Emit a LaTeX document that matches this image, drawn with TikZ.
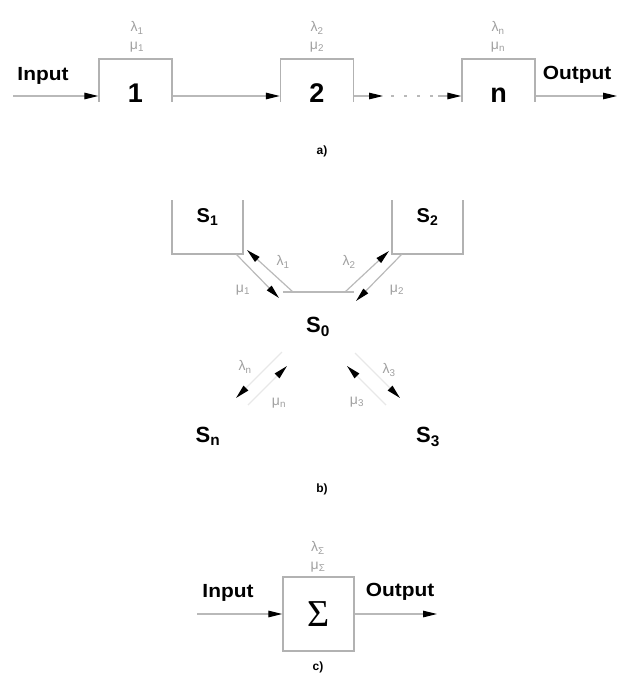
\documentclass[tikz,border=0pt]{standalone}
\usepackage{fontspec}
\setmainfont{Liberation Sans}
\newfontfamily\sigmafont{Liberation Serif}
\usetikzlibrary{arrows.meta}
\begin{document}
\begin{tikzpicture}[x=1pt,y=-1pt,
  boxa/.style={draw=gray!60,line width=1.3pt,minimum width=73pt,minimum height=74pt,inner sep=0pt},
  conn/.style={draw=gray!55,line width=1.2pt},
  arr/.style={-{Triangle[length=14pt,width=6.5pt,color=black]}},
  iolab/.style={font=\fontsize{19}{20}\selectfont\bfseries,inner sep=0pt},
  digit/.style={font=\fontsize{27}{27}\selectfont\bfseries,inner sep=0pt,anchor=base},
  glab/.style={font=\fontsize{14}{14}\selectfont,text=gray!75,inner sep=0pt},
  slab/.style={font=\fontsize{22}{22}\selectfont\bfseries,inner sep=0pt},
  caplab/.style={font=\fontsize{12}{12}\selectfont\bfseries,inner sep=0pt},
  faint/.style={draw=gray!18,line width=1.2pt}
]
\useasboundingbox (0,0) rectangle (617,675);

% ---------------- part a ----------------
\begin{scope}
\clip (0,0) rectangle (617,101);
\node[boxa] (b1) at (135.5,96) {};
\node[boxa] (b2) at (317,96) {};
\node[boxa] (bn) at (498.5,96) {};
\end{scope}
\node[digit] (t1) at (135.5,102) {1};
\node[digit] (t2) at (317,102) {2};
\node[digit] (tn) at (498.5,102) {n};

\coordinate (inA) at (13,96);
\coordinate (p1) at (383,96);
\coordinate (p2) at (438,96);
\coordinate (outA) at (617,96);
\draw[conn,arr] (inA) -- (b1.west);
\draw[conn,arr] (b1.east) -- (b2.west);
\draw[conn,arr] (b2.east) -- (p1);
\draw[conn,dash pattern=on 3pt off 10pt] ([xshift=8pt]p1) -- (p2);
\draw[conn,arr] (p2) -- (bn.west);
\draw[conn,arr] (bn.east) -- (outA);

\node[iolab] (inlab) at (43,76) {\scalebox{1.1}[1]{Input}};
\node[iolab] (outlab) at (577,75) {\scalebox{1.1}[1]{Output}};

\node[glab] (l1) at (137,28) {λ\textsubscript{1}};
\node[glab] (m1) at (137,47) {μ\textsubscript{1}};
\node[glab] (l2) at (317,28) {λ\textsubscript{2}};
\node[glab] (m2) at (317,47) {μ\textsubscript{2}};
\node[glab] (ln) at (498,28) {λ\textsubscript{n}};
\node[glab] (mn) at (498,47) {μ\textsubscript{n}};

\node[caplab] (capa) at (322,151) {a)};

% ---------------- part b ----------------
\begin{scope}
\clip (0,200) rectangle (617,675);
\node[boxa,minimum width=71pt,font=\fontsize{20}{20}\selectfont\bfseries] (s1) at (207.5,217) {S\textsubscript{1}};
\node[boxa,minimum width=71pt,font=\fontsize{20}{20}\selectfont\bfseries] (s2) at (427.5,217) {S\textsubscript{2}};
\end{scope}

\coordinate (h1) at (283,292);
\coordinate (h2) at (354,292);
\draw[conn] (h1) -- (h2);

\coordinate (a1s) at (293,292);
\coordinate (a1e) at (247,250);
\coordinate (b1s) at (236,254);
\coordinate (b1e) at (279,298);
\draw[conn,arr] (a1s) -- (a1e);
\draw[conn,arr] (b1s) -- (b1e);

\coordinate (a2s) at (345,292);
\coordinate (a2e) at (389,251);
\coordinate (b2s) at (402,254);
\coordinate (b2e) at (356,301);
\draw[conn,arr] (a2s) -- (a2e);
\draw[conn,arr] (b2s) -- (b2e);

\node[glab] (bl1) at (283,262) {λ\textsubscript{1}};
\node[glab] (bl2) at (349,262) {λ\textsubscript{2}};
\node[glab] (bm1) at (243,290) {μ\textsubscript{1}};
\node[glab] (bm2) at (397,290) {μ\textsubscript{2}};

\node[slab] (s0) at (318,327) {S\textsubscript{0}};

% lower branches
\coordinate (cns) at (282,352);
\coordinate (cne) at (236,398);
\coordinate (dns) at (248,405);
\coordinate (dne) at (287,366);
\draw[faint,arr] (cns) -- (cne);
\draw[faint,arr] (dns) -- (dne);

\coordinate (c3s) at (355,353);
\coordinate (c3e) at (400,398);
\coordinate (d3s) at (386,405);
\coordinate (d3e) at (347,366);
\draw[faint,arr] (c3s) -- (c3e);
\draw[faint,arr] (d3s) -- (d3e);

\node[glab] (lln) at (245,367) {λ\textsubscript{n}};
\node[glab] (mmn) at (279,403) {μ\textsubscript{n}};
\node[glab] (ll3) at (389,370) {λ\textsubscript{3}};
\node[glab] (mm3) at (357,402) {μ\textsubscript{3}};

\node[slab] (sn) at (208,436) {S\textsubscript{n}};
\node[slab] (s3) at (428,437) {S\textsubscript{3}};

\node[caplab] (capb) at (322,489) {b)};

% ---------------- part c ----------------
\node[boxa,minimum width=71pt,font=\sigmafont\fontsize{38}{38}\selectfont] (sig) at (318.5,614) {Σ};
\coordinate (inC) at (197,614);
\coordinate (outC) at (437,614);
\draw[conn,arr] (inC) -- (sig.west);
\draw[conn,arr] (sig.east) -- (outC);
\node[iolab] (inlabc) at (228,593) {\scalebox{1.1}[1]{Input}};
\node[iolab] (outlabc) at (400,592) {\scalebox{1.1}[1]{Output}};
\node[glab] (lsig) at (318,548) {λ\textsubscript{Σ}};
\node[glab] (msig) at (318,567) {μ\textsubscript{Σ}};
\node[caplab] (capc) at (318,667) {c)};
\end{tikzpicture}
\end{document}
